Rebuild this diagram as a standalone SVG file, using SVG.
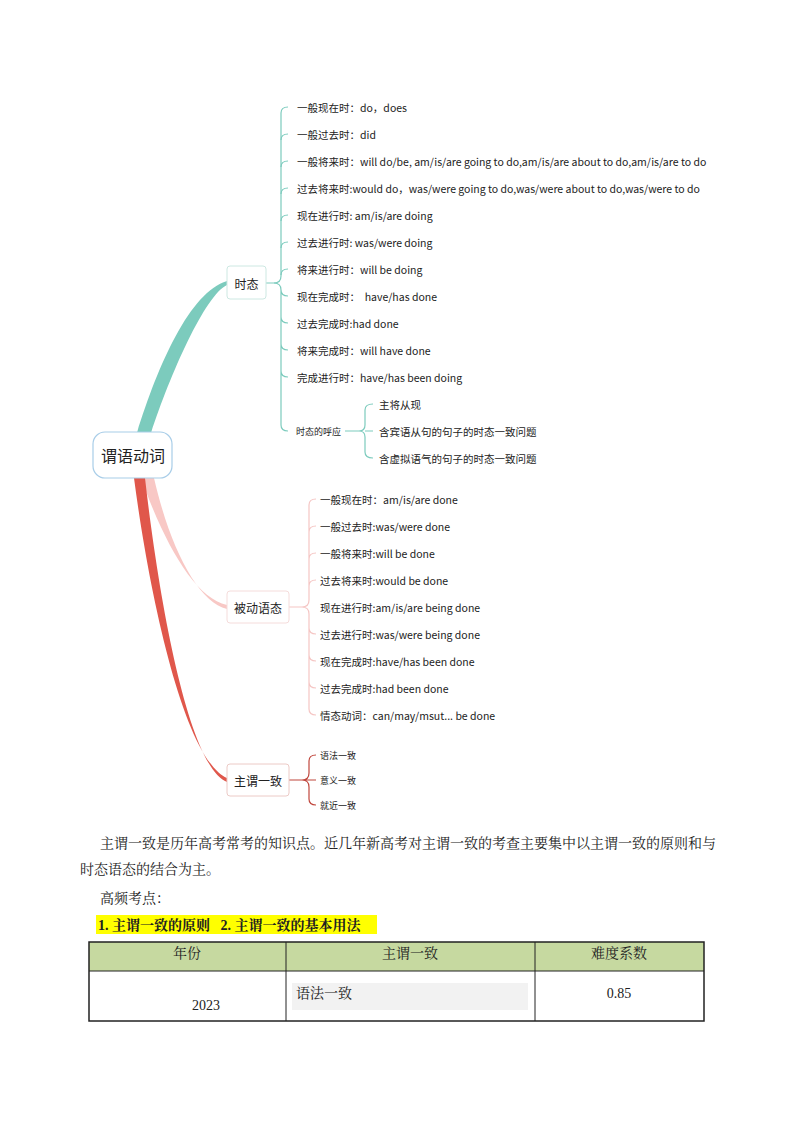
<svg xmlns="http://www.w3.org/2000/svg" width="794" height="1123" viewBox="0 0 794 1123">
<style>
text{font-family:"Noto Sans CJK SC","Noto Sans",sans-serif;fill:#222}
.l{font-size:10.5px;dominant-baseline:central}
.s{font-size:9px;dominant-baseline:central}
.n{font-size:12px;text-anchor:middle;dominant-baseline:central}
.t{fill:none;stroke:#7ccbbd;stroke-width:1.2}
.p{fill:none;stroke:#f5c6c4;stroke-width:1.2}
.r{fill:none;stroke:#c0463c;stroke-width:1.2}
.b{font-family:"Liberation Serif","Noto Serif CJK SC","Noto Sans CJK SC",serif;font-size:14px}
</style>
<rect width="794" height="1123" fill="#fff"/>
<g id="connectors">
<path d="M137,433 C158,365 190,292 227,281 L227,285 C205,295 170,375 151,433 Z" fill="#7ccbbd"/>
<path d="M141,478 C165,545 195,598 227,605 L227,609 C198,602 170,548 154,478 Z" fill="#f8c8c5"/>
<path d="M134,478 C150,600 185,760 227,778 L227,782 C190,768 160,610 145,478 Z" fill="#e0574b"/>
<path class="t" d="M266,283 H274 Q281,283 281,276 V113 Q281,107 288,107"/>
<path class="t" d="M281,140 Q281,134 288,134 M281,167 Q281,161 288,161 M281,194 Q281,188 288,188 M281,221 Q281,215 288,215 M281,248 Q281,242 288,242 M281,275 Q281,269 288,269"/>
<path class="t" d="M274,283 Q281,283 281,290 V425 Q281,431 288,431 M281,290 Q281,296 288,296 M281,317 Q281,323 288,323 M281,344 Q281,350 288,350 M281,371 Q281,377 288,377"/>
<path class="t" d="M345,431 H360 M365,431 H373 M359,431 Q365,431 365,425 V410 Q365,404 373,404 M359,431 Q365,431 365,437 V452 Q365,458 373,458"/>
<path class="p" d="M289,607 H302 Q309,607 309,600 V505 Q309,499 316,499 M309,532 Q309,526 316,526 M309,559 Q309,553 316,553 M309,586 Q309,580 316,580 M302,607 Q309,607 309,614 V709 Q309,715 316,715 M309,628 Q309,634 316,634 M309,655 Q309,661 316,661 M309,682 Q309,688 316,688"/>
<path class="r" d="M289,780 H316 M302,780 Q309,780 309,773 V761 Q309,755 316,755 M302,780 Q309,780 309,787 V799 Q309,805 316,805"/>
</g>
<g id="root"><rect x="93" y="432" width="79" height="46" rx="12" fill="#fff" stroke="#a8cde8" stroke-width="1.2"/><text x="133" y="455" class="n" style="font-size:16px">谓语动词</text></g>
<g id="shitai"><rect x="227" y="266" width="39" height="33" rx="3" fill="#fff" stroke="#cde8e2"/><text x="246.5" y="283" class="n">时态</text></g>
<g id="beidong"><rect x="227" y="591" width="62" height="32" rx="3" fill="#fff" stroke="#f5dcdb"/><text x="258" y="607" class="n">被动语态</text></g>
<g id="zhuwei"><rect x="227" y="764" width="62" height="32" rx="3" fill="#fff" stroke="#eccac6"/><text x="258" y="780" class="n">主谓一致</text></g>
<g id="shitai-leaves">
<text x="297" y="107" class="l">一般现在时：do，does</text>
<text x="297" y="134" class="l">一般过去时：did</text>
<text x="297" y="161" class="l">一般将来时：will do/be, am/is/are going to do,am/is/are about to do,am/is/are to do</text>
<text x="297" y="188" class="l">过去将来时:would do，was/were going to do,was/were about to do,was/were to do</text>
<text x="297" y="215" class="l">现在进行时: am/is/are doing</text>
<text x="297" y="242" class="l">过去进行时: was/were doing</text>
<text x="297" y="269" class="l">将来进行时：will be doing</text>
<text x="297" y="296" class="l" xml:space="preserve">现在完成时：  have/has done</text>
<text x="297" y="323" class="l">过去完成时:had done</text>
<text x="297" y="350" class="l">将来完成时：will have done</text>
<text x="297" y="377" class="l">完成进行时：have/has been doing</text>
<text x="296" y="431" class="s">时态的呼应</text>
<text x="379" y="404" class="l">主将从现</text>
<text x="379" y="431" class="l">含宾语从句的句子的时态一致问题</text>
<text x="379" y="458" class="l">含虚拟语气的句子的时态一致问题</text>
</g>
<g id="beidong-leaves">
<text x="320" y="499" class="l">一般现在时：am/is/are done</text>
<text x="320" y="526" class="l">一般过去时:was/were done</text>
<text x="320" y="553" class="l">一般将来时:will be done</text>
<text x="320" y="580" class="l">过去将来时:would be done</text>
<text x="320" y="607" class="l">现在进行时:am/is/are being done</text>
<text x="320" y="634" class="l">过去进行时:was/were being done</text>
<text x="320" y="661" class="l">现在完成时:have/has been done</text>
<text x="320" y="688" class="l">过去完成时:had been done</text>
<text x="320" y="715" class="l">情态动词：can/may/msut... be done</text>
</g>
<g id="zhuwei-leaves">
<text x="320" y="755" class="s">语法一致</text>
<text x="320" y="780" class="s">意义一致</text>
<text x="320" y="805" class="s">就近一致</text>
</g>
<g id="body">
<text x="100" y="848" class="b">主谓一致是历年高考常考的知识点。近几年新高考对主谓一致的考查主要集中以主谓一致的原则和与</text>
<text x="80" y="874" class="b">时态语态的结合为主。</text>
<text x="100" y="903" class="b">高频考点：</text>
<rect x="96" y="915" width="281" height="19" fill="#ffff00"/>
<text x="98" y="930" class="b" style="font-weight:bold" xml:space="preserve">1. 主谓一致的原则   2. 主谓一致的基本用法</text>
</g>
<g id="table">
<rect x="89" y="942" width="615" height="29" fill="#c6d9a0"/>
<rect x="292" y="983" width="236" height="27" fill="#f2f2f2"/>
<rect x="89" y="942" width="615" height="79" fill="none" stroke="#222" stroke-width="1.5"/>
<path d="M89,971 H704 M286,942 V1021 M535,942 V1021" stroke="#222" stroke-width="1"/>
<text x="187" y="958" class="b" text-anchor="middle">年份</text>
<text x="410" y="958" class="b" text-anchor="middle">主谓一致</text>
<text x="619" y="958" class="b" text-anchor="middle">难度系数</text>
<text x="206" y="1010" class="b" text-anchor="middle">2023</text>
<text x="296" y="998" class="b">语法一致</text>
<text x="619" y="998" class="b" text-anchor="middle">0.85</text>
</g>
</svg>
